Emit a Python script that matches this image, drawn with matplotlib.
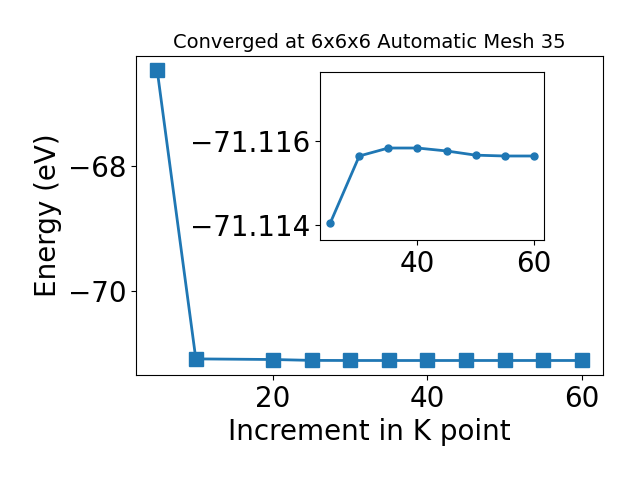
import matplotlib.pyplot as plt

# k-point increments and total energies (eV)
kpoints = [5, 10, 20, 25, 30, 35, 40, 45, 50, 55, 60]
energy = [-66.48, -71.09, -71.10, -71.11404, -71.11564, -71.11583,
          -71.11583, -71.11576, -71.11566, -71.11564, -71.11564]

inset_k = [25, 30, 35, 40, 45, 50, 55, 60]
inset_e = [-71.11404, -71.11564, -71.11583, -71.11583,
           -71.11576, -71.11566, -71.11564, -71.11564]

fig = plt.figure(figsize=(6.4, 4.8), dpi=100)
ax = fig.add_axes([0.2125, 0.21875, 0.7297, 0.6646])
ax.plot(kpoints, energy, marker="s", markersize=10, linewidth=2, color="#1f77b4")
ax.set_xlabel("Increment in K point", fontsize=20)
ax.set_ylabel("Energy (eV)", fontsize=20)
ax.set_title("Converged at 6x6x6 Automatic Mesh 35", fontsize=14)
ax.tick_params(labelsize=20)
ax.set_yticks([-70, -68])

# inset zoom on the converged region
ins = fig.add_axes([0.5, 0.5, 0.35, 0.35])
ins.plot(inset_k, inset_e, marker="o", markersize=5, linewidth=2, color="#1f77b4")
ins.set_ylim(-71.11364, -71.11764)
ins.set_yticks([-71.114, -71.116])
ins.set_xticks([40, 60])
ins.ticklabel_format(useOffset=False)
ins.tick_params(labelsize=20)

plt.savefig("out.png", dpi=100)
